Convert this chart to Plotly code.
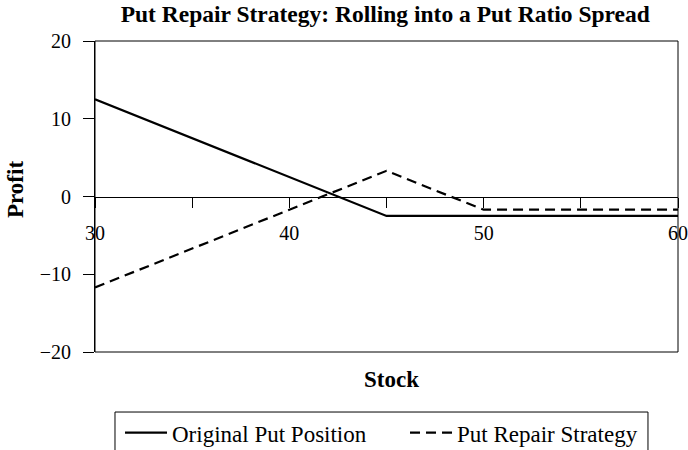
import plotly.graph_objects as go

# Payoff profiles at expiration
stock_original = [30, 45, 60]
profit_original = [12.5, -2.5, -2.5]

stock_repair = [30, 45, 50, 60]
profit_repair = [-11.7, 3.3, -1.7, -1.7]

x_label_ticks = [30, 40, 50, 60]
x_minor_ticks = [35, 45, 55]
y_ticks = [-20, -10, 0, 10, 20]

FONT = "Liberation Serif"

fig = go.Figure()
fig.add_trace(go.Scatter(
    x=stock_original, y=profit_original, mode="lines",
    name="Original Put Position",
    line=dict(color="black", width=2.2),
))
fig.add_trace(go.Scatter(
    x=stock_repair, y=profit_repair, mode="lines",
    name="Put Repair Strategy",
    line=dict(color="black", width=2.2, dash="10px,6px"),
))

fig.update_layout(
    width=688, height=450,
    margin=dict(l=95, r=10, t=41, b=98, autoexpand=False),
    paper_bgcolor="white", plot_bgcolor="white",
    font=dict(family=FONT, size=20, color="black"),
    title=dict(
        text="<b>Put Repair Strategy: Rolling into a Put Ratio Spread</b>",
        x=0.56, xanchor="center", y=0.969, yanchor="middle",
        font=dict(family=FONT, size=23.5),
    ),
    showlegend=True,
    legend=dict(
        orientation="h", x=0.0429, xanchor="left", y=-0.19, yanchor="top",
        borderwidth=0, font=dict(family=FONT, size=23),
        itemwidth=42, entrywidth=228, tracegroupgap=0,
        bgcolor="rgba(0,0,0,0)",
    ),
    xaxis=dict(
        range=[30, 60], anchor="free", position=0.5,
        showgrid=False, zeroline=False,
        showline=True, linecolor="black", linewidth=1,
        ticks="outside", ticklen=10, tickcolor="black", tickwidth=1,
        tickvals=x_label_ticks, ticklabelstandoff=8,
        ticklabeloverflow="allow",
        minor=dict(ticks="outside", ticklen=10, tickcolor="black",
                   tickwidth=1, tickvals=x_minor_ticks, showgrid=False),
    ),
    yaxis=dict(
        range=[-20, 20], showgrid=False, zeroline=False,
        showline=True, linecolor="black", linewidth=1,
        ticks="outside", ticklen=11, tickcolor="black", tickwidth=1,
        tickvals=y_ticks, ticklabelstandoff=8,
    ),
)

# Frame around the plotting area
fig.add_shape(type="rect", xref="paper", yref="paper",
              x0=0, x1=1, y0=0, y1=1, line=dict(color="black", width=1))

# Legend border box
fig.add_shape(type="rect", xref="paper", yref="paper",
              x0=0.0343, x1=0.9485, y0=-0.193, y1=-0.40,
              line=dict(color="black", width=1))

fig.add_annotation(text="<b>Stock</b>", xref="paper", yref="paper",
                   x=0.508, y=-0.087, xanchor="center", yanchor="middle",
                   showarrow=False, font=dict(family=FONT, size=23))

fig.add_annotation(text="<b>Profit</b>", xref="paper", yref="paper",
                   x=-0.1355, y=0.521, xanchor="center", yanchor="middle",
                   textangle=-90, showarrow=False,
                   font=dict(family=FONT, size=23))

fig.write_html("out.html")
